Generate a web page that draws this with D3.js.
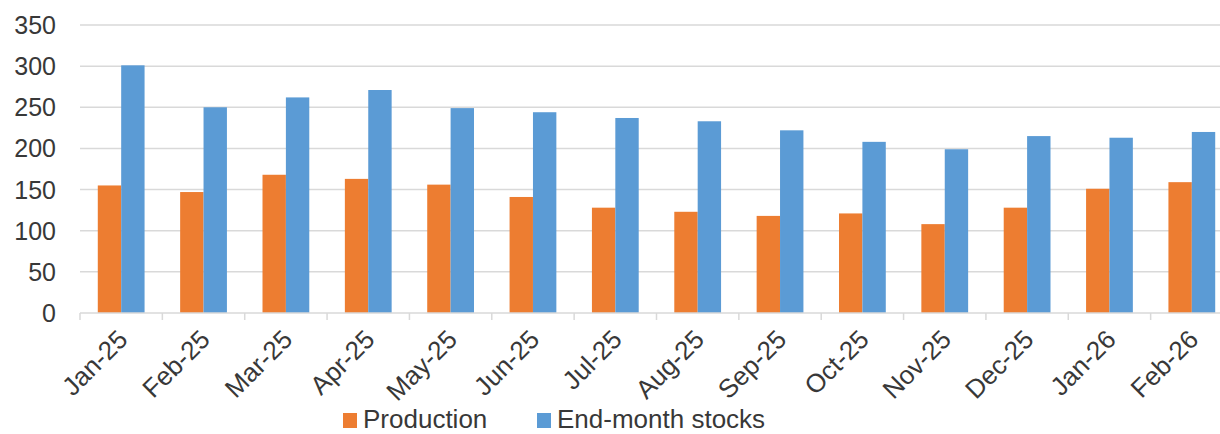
<!DOCTYPE html>
<html>
<head>
<meta charset="utf-8">
<script src="https://cdn.jsdelivr.net/npm/d3@7"></script>
<style>
  html, body { margin: 0; padding: 0; background: #fff; }
  svg { display: block; }
  text { font-family: "Liberation Sans", Arial, sans-serif; fill: #383838; }
</style>
</head>
<body>
<svg id="chart" width="1220" height="434"></svg>
<script>
const categories = ["Jan-25","Feb-25","Mar-25","Apr-25","May-25","Jun-25","Jul-25","Aug-25","Sep-25","Oct-25","Nov-25","Dec-25","Jan-26","Feb-26"];
const production = [155, 147, 168, 163, 156, 141, 128, 123, 118, 121, 108, 128, 151, 159];
const stocks = [301, 250, 262, 271, 249, 244, 237, 233, 222, 208, 199, 215, 213, 220];
const seriesNames = ["Production", "End-month stocks"];
const seriesColors = ["#ED7D31", "#5B9BD5"];
const yTicks = [0, 50, 100, 150, 200, 250, 300, 350];

const svg = d3.select("#chart");
const mLeft = 80, mRight = 1233, mTop = 25, mBottom = 313;

const x = d3.scaleBand().domain(categories).range([mLeft, mRight]).padding(0);
const groupW = x.bandwidth() * 0.568;
const x1 = d3.scaleBand().domain(seriesNames)
  .range([(x.bandwidth() - groupW) / 2, (x.bandwidth() + groupW) / 2]);
const y = d3.scaleLinear().domain([0, 350]).range([mBottom, mTop]);

// gridlines
svg.append("g").selectAll("line").data(yTicks.filter(d => d > 0)).join("line")
  .attr("x1", mLeft).attr("x2", 1220)
  .attr("y1", d => y(d)).attr("y2", d => y(d))
  .attr("stroke", "#d9d9d9").attr("stroke-width", 1.5);

// y labels
svg.append("g").selectAll("text").data(yTicks).join("text")
  .attr("x", 56).attr("y", d => y(d)).attr("dy", "0.36em")
  .attr("text-anchor", "end").attr("font-size", 25)
  .text(d => d);

// bars
const data = categories.map((c, i) => ({ c, vals: [production[i], stocks[i]] }));
const groups = svg.append("g").selectAll("g").data(data).join("g")
  .attr("transform", d => `translate(${x(d.c)},0)`);
groups.selectAll("rect").data(d => d.vals.map((v, j) => ({ s: seriesNames[j], v, j }))).join("rect")
  .attr("x", d => x1(d.s)).attr("width", x1.bandwidth())
  .attr("y", d => y(d.v)).attr("height", d => y(0) - y(d.v))
  .attr("fill", d => seriesColors[d.j]);

// x axis baseline and ticks
svg.append("line").attr("x1", mLeft).attr("x2", 1220).attr("y1", mBottom).attr("y2", mBottom)
  .attr("stroke", "#d9d9d9").attr("stroke-width", 1.5);
const tickPos = categories.map(c => x(c)).concat([mRight]);
svg.append("g").selectAll("line").data(tickPos).join("line")
  .attr("x1", d => d).attr("x2", d => d).attr("y1", mBottom).attr("y2", mBottom + 7)
  .attr("stroke", "#d9d9d9").attr("stroke-width", 1.5);

// x labels
svg.append("g").selectAll("text").data(categories).join("text")
  .attr("transform", d => `translate(${x(d) + x.bandwidth() / 2 - 5},${mBottom + 15}) rotate(-45)`)
  .attr("text-anchor", "end").attr("dy", "0.71em").attr("font-size", 26)
  .text(d => d);

// legend
const legendItems = [
  { name: seriesNames[0], color: seriesColors[0], sx: 343 },
  { name: seriesNames[1], color: seriesColors[1], sx: 537 }
];
const lg = svg.append("g");
lg.selectAll("rect").data(legendItems).join("rect")
  .attr("x", d => d.sx).attr("y", 413).attr("width", 14).attr("height", 15)
  .attr("fill", d => d.color);
lg.selectAll("text").data(legendItems).join("text")
  .attr("x", d => d.sx + 20).attr("y", 428).attr("font-size", 26)
  .text(d => d.name);
</script>
</body>
</html>
